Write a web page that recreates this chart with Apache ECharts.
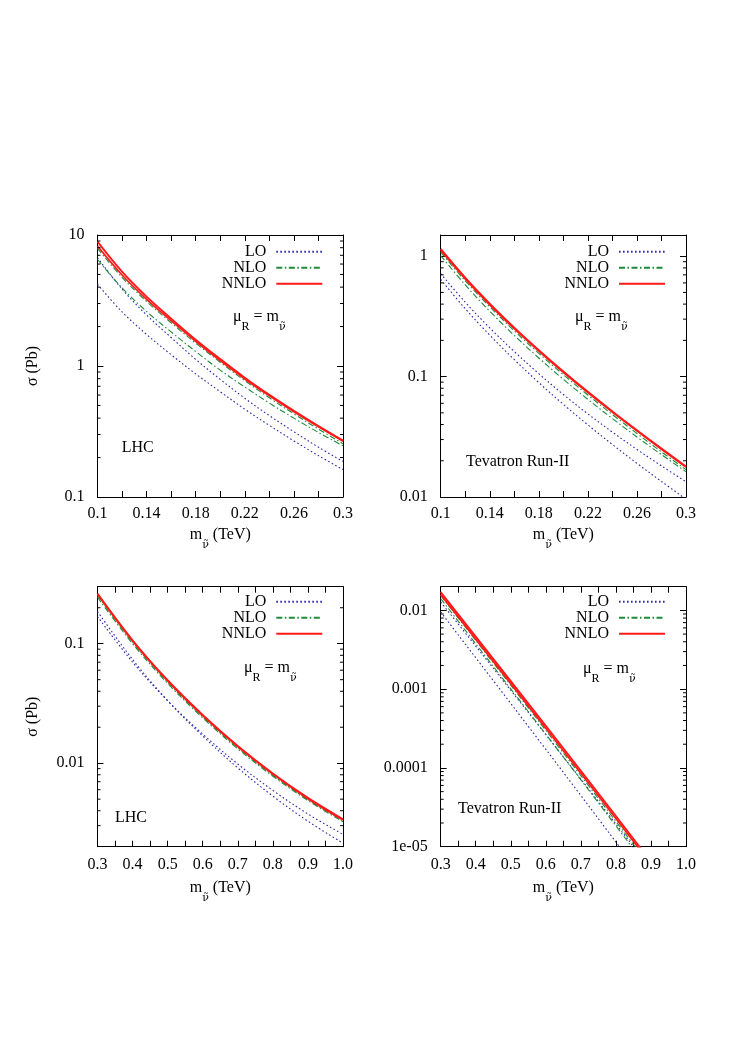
<!DOCTYPE html>
<html><head><meta charset="utf-8">
<script src="https://cdn.jsdelivr.net/npm/echarts@6/dist/echarts.min.js"></script>
<style>html,body{margin:0;padding:0;background:#fff}#c{width:734px;height:1049px}</style>
</head><body><div id="c"></div>
<script>
// ---------------- data ----------------
const xLowMass  = [0.10,0.12,0.14,0.16,0.18,0.20,0.22,0.24,0.26,0.28,0.30];
const xHighMass = [0.3,0.4,0.5,0.6,0.7,0.8,0.9,1.0];

// LHC, low mass
const lhcLowLO_a   = [6.70, 3.87, 2.45, 1.65, 1.124, 0.791, 0.567, 0.418, 0.315, 0.240, 0.187];
const lhcLowLO_b   = [4.20, 2.59, 1.74, 1.22, 0.871, 0.636, 0.468, 0.352, 0.268, 0.207, 0.162];
const lhcLowNLO_a  = [7.90, 4.75, 3.11, 2.14, 1.495, 1.068, 0.772, 0.572, 0.431, 0.330, 0.255];
const lhcLowNLO_b  = [6.50, 3.95, 2.61, 1.82, 1.29, 0.93, 0.691, 0.521, 0.400, 0.311, 0.246];
const lhcLowNNLO_a = [8.90, 5.25, 3.38, 2.30, 1.59, 1.13, 0.815, 0.603, 0.455, 0.348, 0.270];
const lhcLowNNLO_b = [8.25, 4.95, 3.23, 2.22, 1.545, 1.10, 0.797, 0.593, 0.448, 0.344, 0.267];

// Tevatron, low mass
const tevLowLO_a   = [0.716, 0.415, 0.2537, 0.1614, 0.1057, 0.0710, 0.0490, 0.0346, 0.02484, 0.01813, 0.01339];
const tevLowLO_b   = [0.641, 0.3665, 0.221, 0.1384, 0.0891, 0.0588, 0.0397, 0.02727, 0.01904, 0.01346, 0.0096];
const tevLowNLO_a  = [1.08, 0.624, 0.380, 0.240, 0.156, 0.1038, 0.0703, 0.0484, 0.0337, 0.0237, 0.01687];
const tevLowNLO_b  = [1.012, 0.578, 0.349, 0.2196, 0.1428, 0.0949, 0.0647, 0.0448, 0.0315, 0.02247, 0.01624];
const tevLowNNLO_a = [1.15, 0.664, 0.404, 0.2553, 0.166, 0.1104, 0.0748, 0.05145, 0.03585, 0.02525, 0.01795];
const tevLowNNLO_b = [1.12, 0.648, 0.395, 0.250, 0.163, 0.1086, 0.0737, 0.0507, 0.0354, 0.0249, 0.0177];

// LHC, high mass
const lhcHighLO_a   = [0.186, 0.0738, 0.0334, 0.01689, 0.00914, 0.0053, 0.00327, 0.00214];
const lhcHighLO_b   = [0.169, 0.0701, 0.0333, 0.01753, 0.00984, 0.00592, 0.00376, 0.00253];
const lhcHighNLO_a  = [0.254, 0.1033, 0.0478, 0.0245, 0.01347, 0.00793, 0.00495, 0.00328];
const lhcHighNLO_b  = [0.2446, 0.1000, 0.0465, 0.02395, 0.01319, 0.00778, 0.00487, 0.00323];
const lhcHighNNLO_a = [0.263, 0.107, 0.0495, 0.0254, 0.01396, 0.00822, 0.00513, 0.0034];
const lhcHighNNLO_b = [0.259, 0.1054, 0.0488, 0.0250, 0.01375, 0.0081, 0.00505, 0.00335];

// Tevatron, high mass
const tevHighLO_a   = [0.0128, 0.00352, 9.683e-4, 2.652e-4, 7.213e-5, 1.94e-5, 5.159e-6, 1.355e-6];
const tevHighLO_b   = [0.00955, 0.002508, 6.588e-4, 1.722e-4, 4.471e-5, 1.147e-5, 2.907e-6, 7.284e-7];
const tevHighNLO_a  = [0.01549, 0.004169, 0.001122, 2.999e-4, 7.98e-5, 2.099e-5, 5.445e-6, 1.40e-6];
const tevHighNLO_b  = [0.01413, 0.003771, 0.001007, 2.676e-4, 7.062e-5, 1.841e-5, 4.746e-6, 1.209e-6];
const tevHighNNLO_a = [0.01706, 0.004645, 0.001265, 3.428e-4, 9.226e-5, 2.455e-5, 6.457e-6, 1.679e-6];
const tevHighNNLO_b = [0.01585, 0.004315, 0.001175, 3.184e-4, 8.57e-5, 2.28e-5, 5.998e-6, 1.56e-6];

// tick labels
const yTicks1 = [0.1, 1, 10];            const yLabels1 = ['0.1', '1', '10'];
const yTicks2 = [0.01, 0.1, 1];          const yLabels2 = ['0.01', '0.1', '1'];
const yTicks3 = [0.01, 0.1];             const yLabels3 = ['0.01', '0.1'];
const yTicks4 = [1e-5, 1e-4, 1e-3, 0.01]; const yLabels4 = ['1e-05', '0.0001', '0.001', '0.01'];
const minorMult = [2,3,4,5,6,7,8,9];

// ---------------- layout / style ----------------
const FF = '"Liberation Serif","DejaVu Serif",serif';
const FF_MARK = '"DejaVu Serif","Liberation Serif",serif';
const C_LO = '#2a2aaa', C_NLO = '#1f8a3a', C_NNLO = '#ff1a1a';

const panels = [
  {grid:{left:97.5, top:235, width:245.5, height:262}, xmin:0.1, xmax:0.3, xint:0.02, lowX:true,
   ymin:0.1, ymax:10, yt:yTicks1, yl:yLabels1, x:xLowMass, yName:true,
   lo:[lhcLowLO_a,lhcLowLO_b], nlo:[lhcLowNLO_a,lhcLowNLO_b], nnlo:[lhcLowNNLO_a,lhcLowNNLO_b],
   legend:{right:410.7, top:243.7}, mu:{left:233, top:309}, tag:{text:'LHC', left:121.7, top:440}, nameGap:30, smooth:0.35},
  {grid:{left:440.7, top:235, width:245.3, height:262}, xmin:0.1, xmax:0.3, xint:0.02, lowX:true,
   ymin:0.01, ymax:1.5, yt:yTicks2, yl:yLabels2, x:xLowMass, yName:false,
   lo:[tevLowLO_a,tevLowLO_b], nlo:[tevLowNLO_a,tevLowNLO_b], nnlo:[tevLowNNLO_a,tevLowNNLO_b],
   legend:{right:68, top:243.7}, mu:{left:575, top:309}, tag:{text:'Tevatron Run-II', left:466, top:453.7}, nameGap:30, smooth:0.35},
  {grid:{left:97.5, top:586.7, width:245.5, height:260}, xmin:0.3, xmax:1.0, xint:0.05, lowX:false,
   ymin:0.002, ymax:0.3, yt:yTicks3, yl:yLabels3, x:xHighMass, yName:true,
   lo:[lhcHighLO_a,lhcHighLO_b], nlo:[lhcHighNLO_a,lhcHighNLO_b], nnlo:[lhcHighNNLO_a,lhcHighNNLO_b],
   legend:{right:410.7, top:593.7}, mu:{left:244, top:660}, tag:{text:'LHC', left:115, top:810}, nameGap:33, smooth:0.35},
  {grid:{left:440.7, top:586.7, width:245.3, height:260}, xmin:0.3, xmax:1.0, xint:0.05, lowX:false,
   ymin:1e-5, ymax:0.02, yt:yTicks4, yl:yLabels4, x:xHighMass, yName:false,
   lo:[tevHighLO_a,tevHighLO_b], nlo:[tevHighNLO_a,tevHighNLO_b], nnlo:[tevHighNNLO_a,tevHighNNLO_b],
   legend:{right:68, top:593.7}, mu:{left:583, top:661}, tag:{text:'Tevatron Run-II', left:458, top:801}, nameGap:33, smooth:false}
];

const grids = [], xAxes = [], yAxes = [], series = [], legends = [], graphics = [];
const axisLine = {show:true, lineStyle:{color:'#000', width:1}};
const richSub = {
  i:{fontFamily:FF, fontSize:16, color:'#000', lineHeight:16, verticalAlign:'top'},
  s:{fontFamily:FF, fontSize:12, color:'#000', lineHeight:24, verticalAlign:'bottom'},
  t:{fontFamily:FF_MARK, fontSize:11, color:'#000', lineHeight:24, verticalAlign:'bottom'}
};
const SUBNU = '{t|ν̃}';

panels.forEach((p, gi) => {
  grids.push(Object.assign({containLabel:false}, p.grid));
  const xLabelFmt = p.lowX
    ? (v => (Math.round(v*100) % 4 === 2) ? String(+v.toFixed(2)) : '')
    : (v => (Math.round(v*100) % 10 === 0) ? v.toFixed(1) : '');
  xAxes.push({
    type:'value', gridIndex:gi, position:'bottom', min:p.xmin, max:p.xmax, interval:p.xint,
    axisLine, splitLine:{show:false},
    axisTick:{show:true, inside:true, length:6, lineStyle:{color:'#000'}},
    axisLabel:{show:true, margin:p.lowX?9:10, formatter:xLabelFmt, fontFamily:FF, fontSize:16, color:'#000', hideOverlap:false},
    name:'{i|m}' + SUBNU + '{i|\u00a0(TeV)}', nameLocation:'middle', nameGap:p.nameGap,
    nameTextStyle:{fontFamily:FF, fontSize:16, color:'#000', rich:richSub}
  });
  xAxes.push({
    type:'value', gridIndex:gi, position:'top', min:p.xmin, max:p.xmax, interval:p.xint,
    axisLine, splitLine:{show:false},
    axisTick:{show:true, inside:true, length:6, lineStyle:{color:'#000'}},
    axisLabel:{show:false}
  });
  const yFmt = v => {
    const i = p.yt.findIndex(t => Math.abs(Math.log10(v / t)) < 1e-6);
    return i >= 0 ? p.yl[i] : '';
  };
  yAxes.push({
    type:'log', logBase:10, gridIndex:gi, position:'left', min:p.ymin, max:p.ymax,
    axisLine, splitLine:{show:false}, minorTick:{show:false},
    axisTick:{show:true, inside:true, length:6, lineStyle:{color:'#000'}},
    axisLabel:{show:true, margin:13, formatter:yFmt, fontFamily:FF, fontSize:16, color:'#000', hideOverlap:false},
    name: p.yName ? 'σ (Pb)' : '', nameLocation:'middle', nameGap:57, nameRotate:90,
    nameTextStyle:{fontFamily:FF, fontSize:16, color:'#000'}
  });
  yAxes.push({
    type:'log', logBase:10, gridIndex:gi, position:'right', min:p.ymin, max:p.ymax,
    axisLine, splitLine:{show:false},
    axisTick:{show:true, inside:true, length:6, lineStyle:{color:'#000'}},
    axisLabel:{show:false}
  });

  const mk = (name, arr, color, type, width) => ({
    type:'line', name, xAxisIndex:2*gi, yAxisIndex:2*gi,
    data: p.x.map((xv, k) => [xv, arr[k]]),
    symbol:'none', showSymbol:false, smooth:p.smooth, clip:true, silent:true,
    lineStyle:{color, type, width}, itemStyle:{color}, z:2
  });
  p.lo.forEach(a => series.push(mk('LO', a, C_LO, [1.6, 2.4], 1.1)));
  p.nlo.forEach(a => series.push(mk('NLO', a, C_NLO, [6, 2.5, 1.5, 2.5], 1.1)));
  p.nnlo.forEach(a => series.push(mk('NNLO', a, C_NNLO, 'solid', 1.8)));

  // minor log ticks (2..9 in each decade) drawn through the y scale
  const minorVals = [];
  for (let e = Math.floor(Math.log10(p.ymin)); e <= Math.ceil(Math.log10(p.ymax)); e++) {
    minorMult.forEach(m => {
      const v = m * Math.pow(10, e);
      if (v > p.ymin * 1.0001 && v < p.ymax * 0.9999) minorVals.push(v);
    });
  }
  series.push({
    type:'custom', xAxisIndex:2*gi, yAxisIndex:2*gi, silent:true, z:3,
    data: minorVals.map(v => [p.xmin, v]),
    renderItem: (params, api) => {
      const cs = params.coordSys;
      const y = api.coord([api.value(0), api.value(1)])[1];
      return {type:'group', children:[
        {type:'line', shape:{x1:cs.x, y1:y, x2:cs.x+3, y2:y}, style:{stroke:'#000', lineWidth:1}},
        {type:'line', shape:{x1:cs.x+cs.width-3, y1:y, x2:cs.x+cs.width, y2:y}, style:{stroke:'#000', lineWidth:1}}
      ]};
    }
  });

  legends.push({
    data:['LO','NLO','NNLO'], orient:'vertical', align:'right', right:p.legend.right, top:p.legend.top,
    itemWidth:46, itemHeight:10, itemGap:0, selectedMode:false, padding:0,
    itemStyle:{opacity:0},
    textStyle:{fontFamily:FF, fontSize:16, color:'#000', lineHeight:16, padding:[0,5,0,0]}
  });

  graphics.push({
    type:'text', left:p.mu.left, top:p.mu.top,
    style:{text:'{i|μ}{s|R}{i| = m}' + SUBNU, rich:richSub, fontFamily:FF, fontSize:16, fill:'#000'}
  });
  graphics.push({
    type:'text', left:p.tag.left, top:p.tag.top,
    style:{text:p.tag.text, fontFamily:FF, fontSize:16, fill:'#000'}
  });
});

const chart = echarts.init(document.getElementById('c'), null, {renderer:'canvas'});
chart.setOption({
  backgroundColor:'#fff',
  animation:false,
  grid:grids, xAxis:xAxes, yAxis:yAxes, series, legend:legends, graphic:graphics
});
</script></body></html>
